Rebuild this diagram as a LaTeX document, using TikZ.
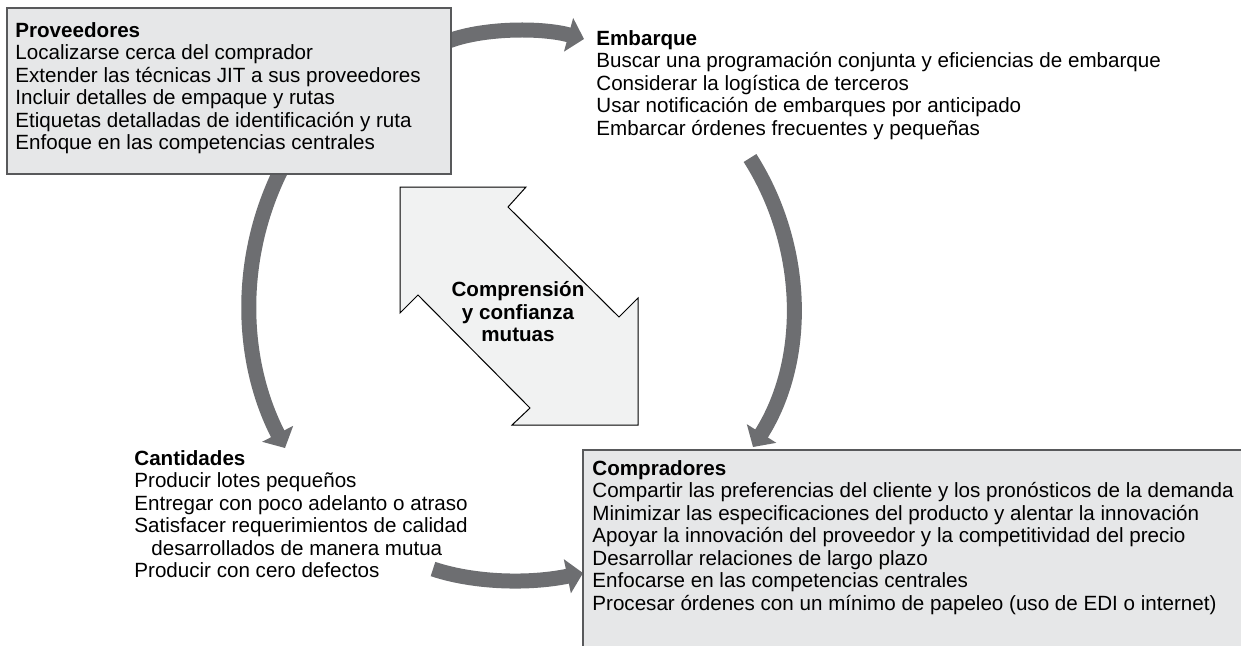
\documentclass[tikz,border=0pt]{standalone}
\usepackage{fontspec}
\setmainfont{Liberation Sans}
\usetikzlibrary{arrows.meta}
\definecolor{flechagris}{HTML}{6D6E71}
\definecolor{cajagris}{HTML}{E6E7E8}
\definecolor{bordegris}{HTML}{58595B}
\definecolor{clarogris}{HTML}{F1F2F2}
\tikzset{
  giro/.style={-{Triangle[length=8pt,width=17pt]},line width=7.5pt,flechagris},
  caja/.style={draw=bordegris,line width=0.8pt,fill=cajagris},
  lista/.style={anchor=north west,align=left,inner sep=0pt,font=\fontsize{10.3pt}{11.25pt}\selectfont},
  centro/.style={align=center,inner sep=0pt,font=\fontsize{10.3pt}{11.25pt}\selectfont\bfseries}
}

\begin{document}
\begin{tikzpicture}[x=0.5pt,y=-0.5pt]
\clip (0,0) rectangle (1241,645);
% extremos de las flechas curvas
\coordinate (provsal) at (446,42);
\coordinate (embent) at (584,39);
\coordinate (embsal) at (750,158);
\coordinate (compent) at (753,447);
\coordinate (provbaj) at (280,172);
\coordinate (cantent) at (285,448);
\coordinate (cantsal) at (433,569);
\coordinate (compizq) at (583,573);
\draw[giro] (provsal) .. controls (480,28) and (540,27) .. (embent);
\draw[giro] (embsal) .. controls (805.7,245.5) and (808.5,359.3) .. (compent);
\draw[giro] (provbaj) .. controls (236.7,260.8) and (240.6,361.7) .. (cantent);
\draw[giro] (cantsal) .. controls (475,583) and (530,584) .. (compizq);
% cajas
\draw[caja] (7,8) rectangle (451,174);
\draw[caja] (583,450) rectangle (1260,670);
% flecha doble
\filldraw[fill=clarogris,draw=black,line width=0.5pt] (400,187) -- (526,187) -- (508,207) -- (619,317) -- (638,298)
  -- (638,425) -- (512,425) -- (530,408) -- (418,295) -- (400,313) -- cycle;
\node[centro] (mutua) at (518,314.5) {\strut Comprensión\\y confianza\\mutuas\strut};
% textos
\node[lista] (prov) at (15,21) {\strut\textbf{Proveedores}\\Localizarse cerca del comprador\\Extender las técnicas JIT a sus proveedores\\Incluir detalles de empaque y rutas\\Etiquetas detalladas de identificación y ruta\\Enfoque en las competencias centrales};
\node[lista] (emb) at (596,29) {\strut\textbf{Embarque}\\Buscar una programación conjunta y eficiencias de embarque\\Considerar la logística de terceros\\Usar notificación de embarques por anticipado\\Embarcar órdenes frecuentes y pequeñas};
\node[lista] (cant) at (134,449) {\strut\textbf{Cantidades}\\Producir lotes pequeños\\Entregar con poco adelanto o atraso\\Satisfacer requerimientos de calidad\\\hspace*{8.5pt}desarrollados de manera mutua\\Producir con cero defectos};
\node[lista] (comp) at (592,459) {\strut\textbf{Compradores}\\Compartir las preferencias del cliente y los pronósticos de la demanda\\Minimizar las especificaciones del producto y alentar la innovación\\Apoyar la innovación del proveedor y la competitividad del precio\\Desarrollar relaciones de largo plazo\\Enfocarse en las competencias centrales\\Procesar órdenes con un mínimo de papeleo (uso de EDI o internet)};
\end{tikzpicture}
\end{document}
